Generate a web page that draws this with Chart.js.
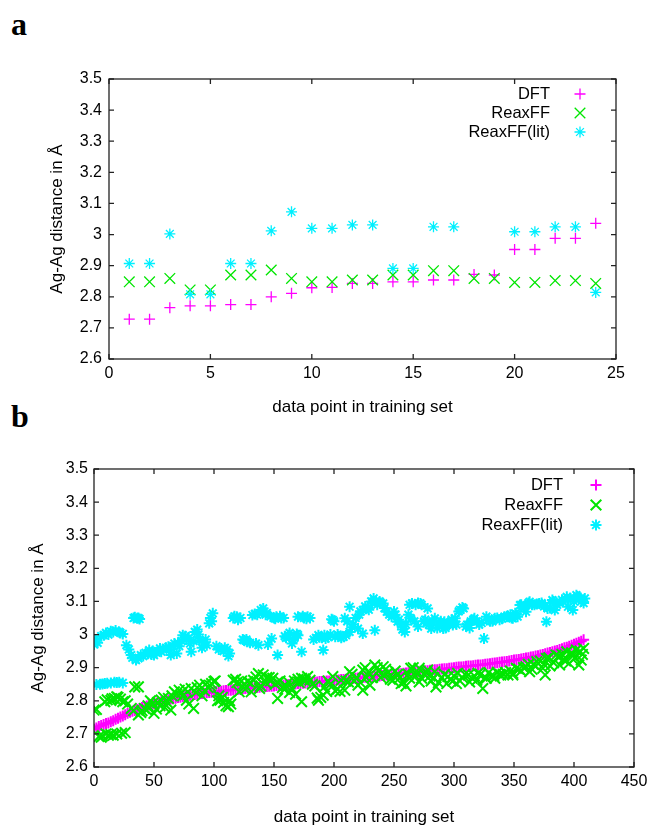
<!DOCTYPE html>
<html><head><meta charset="utf-8">
<script src="https://cdn.jsdelivr.net/npm/chart.js@4/dist/chart.umd.min.js"></script>
<style>
html,body{margin:0;padding:0;background:#fff;width:653px;height:828px;overflow:hidden;}
.lbl{position:absolute;font-family:"Liberation Serif","DejaVu Serif",serif;font-weight:bold;font-size:32px;line-height:32px;color:#000;}
canvas{position:absolute;left:0;}
</style></head><body>
<div class="lbl" style="left:11px;top:8px;">a</div>
<div class="lbl" style="left:11px;top:400px;">b</div>
<canvas id="ca" width="653" height="360" style="top:60px;width:653px;height:360px"></canvas>
<canvas id="cb" width="653" height="388" style="top:440px;width:653px;height:388px"></canvas>
<script>
// ---------- panel a data ----------
const seriesNames = ['DFT', 'ReaxFF', 'ReaxFF(lit)'];
const aIndex = [1,2,3,4,5,6,7,8,9,10,11,12,13,14,15,16,17,18,19,20,21,22,23,24];
const aDFT   = [2.728,2.728,2.765,2.771,2.771,2.775,2.775,2.800,2.811,2.829,2.830,2.843,2.843,2.848,2.848,2.854,2.854,2.872,2.870,2.952,2.952,2.988,2.988,3.036];
const aReax  = [2.848,2.848,2.859,2.822,2.822,2.870,2.870,2.886,2.859,2.848,2.848,2.854,2.854,2.870,2.870,2.884,2.884,2.859,2.859,2.846,2.846,2.852,2.852,2.843];
const aLit   = [2.907,2.907,3.002,2.808,2.808,2.907,2.907,3.012,3.073,3.020,3.020,3.031,3.031,2.891,2.891,3.025,3.025,null,null,3.009,3.009,3.025,3.025,2.814];

// ---------- panel b data: [index, distance] ----------
const bDFT = [[0,2.714],[2,2.718],[4,2.722],[6,2.725],[8,2.728],[10,2.731],[12,2.733],[14,2.737],[16,2.740],[18,2.744],[20,2.747],[22,2.751],[24,2.754],[26,2.758],[28,2.762],[30,2.765],[32,2.768],[34,2.771],[36,2.774],[38,2.777],[40,2.780],[42,2.782],[44,2.784],[46,2.787],[48,2.789],[50,2.791],[52,2.793],[54,2.795],[56,2.797],[58,2.799],[60,2.801],[62,2.803],[64,2.805],[66,2.806],[68,2.808],[70,2.810],[72,2.811],[74,2.813],[76,2.814],[78,2.816],[80,2.817],[82,2.818],[84,2.819],[86,2.820],[88,2.821],[90,2.822],[92,2.823],[94,2.824],[96,2.825],[98,2.826],[100,2.827],[102,2.828],[104,2.829],[106,2.829],[108,2.830],[110,2.831],[112,2.832],[114,2.832],[116,2.833],[118,2.834],[120,2.835],[122,2.835],[124,2.836],[126,2.837],[128,2.838],[130,2.838],[132,2.839],[134,2.840],[136,2.840],[138,2.841],[140,2.842],[142,2.842],[144,2.843],[146,2.844],[148,2.844],[150,2.845],[152,2.846],[154,2.846],[156,2.847],[158,2.848],[160,2.849],[162,2.849],[164,2.850],[166,2.851],[168,2.851],[170,2.852],[172,2.853],[174,2.853],[176,2.854],[178,2.855],[180,2.855],[182,2.856],[184,2.856],[186,2.857],[188,2.858],[190,2.858],[192,2.859],[194,2.860],[196,2.860],[198,2.861],[200,2.862],[202,2.862],[204,2.863],[206,2.864],[208,2.864],[210,2.865],[212,2.866],[214,2.866],[216,2.867],[218,2.868],[220,2.869],[222,2.869],[224,2.870],[226,2.871],[228,2.872],[230,2.872],[232,2.873],[234,2.874],[236,2.875],[238,2.875],[240,2.876],[242,2.877],[244,2.878],[246,2.878],[248,2.879],[250,2.880],[252,2.881],[254,2.881],[256,2.882],[258,2.883],[260,2.884],[262,2.885],[264,2.886],[266,2.886],[268,2.887],[270,2.888],[272,2.889],[274,2.890],[276,2.891],[278,2.891],[280,2.892],[282,2.893],[284,2.894],[286,2.894],[288,2.895],[290,2.896],[292,2.897],[294,2.897],[296,2.898],[298,2.899],[300,2.900],[302,2.901],[304,2.902],[306,2.902],[308,2.903],[310,2.904],[312,2.905],[314,2.905],[316,2.906],[318,2.907],[320,2.908],[322,2.908],[324,2.909],[326,2.910],[328,2.911],[330,2.912],[332,2.913],[334,2.914],[336,2.915],[338,2.916],[340,2.917],[342,2.918],[344,2.919],[346,2.920],[348,2.922],[350,2.923],[352,2.924],[354,2.925],[356,2.926],[358,2.928],[360,2.929],[362,2.930],[364,2.932],[366,2.933],[368,2.935],[370,2.936],[372,2.938],[374,2.940],[376,2.942],[378,2.944],[380,2.946],[382,2.948],[384,2.950],[386,2.952],[388,2.955],[390,2.957],[392,2.960],[394,2.962],[396,2.965],[398,2.968],[400,2.971],[402,2.974],[404,2.977],[406,2.980],[408,2.984]];

const bReax = [[0,2.772],[2,2.774],[4,2.692],[6,2.690],[7,2.694],[9,2.797],[10,2.700],[11,2.803],[12,2.696],[14,2.801],[14,2.698],[15,2.806],[16,2.696],[17,2.807],[19,2.812],[19,2.700],[20,2.810],[22,2.805],[23,2.702],[24,2.797],[26,2.704],[26,2.800],[28,2.790],[31,2.777],[33,2.770],[34,2.842],[37,2.842],[37,2.757],[39,2.765],[40,2.770],[42,2.777],[44,2.772],[45,2.785],[47,2.800],[49,2.792],[50,2.762],[52,2.775],[53,2.795],[55,2.785],[56,2.802],[58,2.810],[59,2.780],[61,2.795],[62,2.807],[64,2.772],[65,2.815],[67,2.827],[69,2.820],[71,2.832],[73,2.825],[74,2.815],[76,2.835],[77,2.802],[79,2.790],[81,2.837],[83,2.777],[85,2.825],[86,2.840],[88,2.847],[90,2.815],[92,2.830],[93,2.850],[95,2.840],[97,2.845],[98,2.852],[100,2.858],[101,2.860],[103,2.800],[104,2.815],[105,2.802],[107,2.810],[108,2.795],[110,2.785],[112,2.782],[113,2.800],[114,2.790],[116,2.862],[118,2.865],[119,2.855],[121,2.827],[123,2.860],[125,2.850],[126,2.835],[128,2.858],[130,2.855],[131,2.827],[133,2.862],[135,2.872],[137,2.882],[138,2.837],[139,2.845],[141,2.878],[143,2.855],[144,2.870],[146,2.870],[147,2.860],[149,2.868],[151,2.850],[153,2.857],[153,2.807],[155,2.860],[157,2.840],[159,2.835],[160,2.845],[162,2.857],[163,2.825],[165,2.837],[167,2.860],[168,2.820],[170,2.865],[171,2.855],[173,2.868],[173,2.797],[175,2.866],[176,2.860],[178,2.873],[180,2.862],[182,2.850],[184,2.845],[186,2.808],[187,2.802],[189,2.810],[191,2.817],[192,2.842],[194,2.828],[195,2.860],[197,2.850],[199,2.873],[201,2.830],[203,2.835],[205,2.828],[206,2.862],[209,2.832],[210,2.860],[212,2.857],[213,2.888],[215,2.880],[217,2.860],[219,2.870],[220,2.847],[222,2.855],[224,2.893],[224,2.832],[226,2.900],[227,2.870],[229,2.885],[230,2.847],[232,2.870],[234,2.908],[236,2.900],[237,2.890],[239,2.870],[241,2.903],[241,2.878],[243,2.895],[245,2.885],[247,2.865],[249,2.862],[251,2.890],[253,2.880],[255,2.870],[256,2.852],[258,2.855],[260,2.845],[262,2.880],[263,2.868],[264,2.898],[266,2.900],[268,2.875],[270,2.885],[271,2.898],[271,2.857],[273,2.868],[275,2.880],[277,2.885],[278,2.893],[280,2.875],[281,2.860],[283,2.870],[284,2.888],[285,2.842],[287,2.855],[290,2.870],[292,2.880],[294,2.852],[295,2.873],[297,2.865],[299,2.860],[300,2.875],[302,2.852],[303,2.883],[305,2.860],[307,2.870],[309,2.880],[312,2.878],[313,2.857],[315,2.868],[317,2.875],[319,2.862],[320,2.883],[322,2.880],[324,2.837],[326,2.870],[327,2.868],[329,2.885],[331,2.875],[333,2.875],[334,2.868],[336,2.885],[338,2.880],[339,2.878],[341,2.880],[343,2.885],[345,2.878],[347,2.890],[349,2.883],[349,2.878],[352,2.898],[354,2.895],[356,2.890],[358,2.900],[360,2.903],[362,2.910],[363,2.888],[365,2.895],[366,2.910],[368,2.905],[369,2.918],[372,2.920],[374,2.898],[375,2.910],[376,2.878],[377,2.928],[379,2.930],[380,2.905],[383,2.915],[385,2.938],[387,2.935],[388,2.908],[390,2.940],[391,2.925],[393,2.920],[394,2.948],[396,2.913],[398,2.945],[399,2.935],[401,2.930],[402,2.953],[404,2.908],[405,2.950],[406,2.923],[407,2.940],[408,2.958]];

const bLit = [[0,2.970],[1,2.985],[2,2.849],[3,2.975],[5,2.850],[6,2.995],[7,2.851],[8,2.998],[9,2.852],[10,3.005],[11,2.853],[12,3.000],[14,2.854],[14,3.010],[16,3.008],[17,2.856],[18,3.012],[19,2.855],[21,3.008],[21,2.856],[22,3.005],[24,2.854],[24,3.002],[27,2.968],[29,2.955],[31,2.938],[32,2.930],[33,3.050],[34,3.052],[35,2.923],[36,3.049],[37,3.050],[37,2.928],[38,3.047],[39,2.938],[41,2.935],[43,2.945],[45,2.942],[46,2.953],[48,2.940],[49,2.950],[50,2.938],[52,2.945],[53,2.950],[55,2.958],[56,2.948],[58,2.955],[60,2.960],[62,2.963],[63,2.955],[64,2.938],[66,2.965],[67,2.973],[69,2.943],[70,2.975],[71,2.965],[73,2.980],[74,2.998],[76,2.995],[77,2.985],[79,2.990],[80,2.973],[81,2.948],[83,2.980],[84,3.008],[86,3.015],[87,3.000],[88,2.983],[90,2.960],[91,2.975],[93,2.985],[94,2.968],[96,3.034],[97,3.050],[98,3.040],[99,3.064],[102,2.965],[104,2.955],[106,2.958],[108,2.950],[109,2.960],[111,2.955],[112,2.935],[113,2.943],[116,3.050],[117,3.055],[119,3.054],[120,3.045],[122,3.050],[124,2.985],[125,2.983],[127,2.985],[128,2.978],[130,2.975],[132,3.059],[134,3.062],[135,2.973],[136,3.060],[137,2.968],[139,3.074],[140,3.070],[141,3.079],[143,3.060],[144,3.065],[145,2.970],[147,3.055],[148,2.988],[150,3.050],[151,3.048],[152,3.054],[153,2.938],[155,3.055],[156,3.050],[158,3.050],[159,2.995],[160,2.990],[162,2.998],[163,3.005],[165,2.973],[166,2.985],[167,2.990],[169,3.002],[170,3.054],[170,2.998],[173,2.948],[174,3.055],[175,3.050],[177,3.048],[178,3.054],[180,3.050],[183,2.985],[185,2.990],[187,2.998],[188,2.992],[190,2.990],[191,2.953],[192,2.998],[193,2.988],[195,2.992],[197,3.000],[198,3.046],[199,3.044],[200,3.040],[201,2.993],[203,3.000],[204,2.995],[206,2.990],[208,2.993],[209,3.049],[210,2.998],[211,3.040],[213,3.084],[213,3.008],[215,3.022],[216,3.030],[218,3.050],[220,3.018],[221,3.060],[222,3.070],[224,3.074],[224,3.003],[226,3.085],[228,3.080],[229,3.075],[231,3.100],[232,3.095],[233,3.109],[234,3.013],[235,3.100],[236,3.090],[238,3.100],[239,3.095],[241,3.094],[242,3.080],[244,3.069],[246,3.060],[248,3.054],[250,3.070],[251,3.060],[253,3.039],[254,3.045],[256,3.030],[257,3.015],[259,3.008],[260,3.030],[262,3.060],[263,3.090],[264,3.049],[265,3.094],[267,3.040],[268,3.090],[270,3.024],[270,3.095],[272,3.094],[273,3.090],[275,3.040],[276,3.045],[277,3.034],[278,3.079],[279,3.030],[281,3.018],[282,3.040],[284,3.049],[286,3.020],[287,3.030],[289,3.040],[291,3.018],[292,3.039],[293,3.020],[295,3.035],[296,3.030],[298,3.045],[299,3.029],[301,3.049],[302,3.030],[304,3.070],[305,3.075],[307,3.082],[308,3.079],[310,3.024],[311,3.030],[313,3.020],[314,3.040],[316,3.045],[317,3.049],[319,3.040],[321,3.030],[323,3.035],[325,2.988],[327,3.054],[329,3.045],[330,3.040],[332,3.040],[334,3.049],[336,3.050],[338,3.045],[340,3.048],[342,3.054],[344,3.054],[345,3.056],[347,3.060],[348,3.050],[349,3.049],[351,3.064],[352,3.060],[353,3.054],[355,3.089],[356,3.090],[358,3.080],[359,3.085],[360,3.069],[362,3.095],[363,3.099],[365,3.090],[367,3.090],[369,3.092],[371,3.094],[373,3.095],[375,3.085],[376,3.088],[377,3.039],[378,3.079],[380,3.080],[382,3.104],[383,3.100],[384,3.074],[386,3.090],[388,3.095],[390,3.105],[391,3.100],[393,3.105],[394,3.114],[395,3.084],[397,3.110],[399,3.074],[400,3.100],[402,3.119],[403,3.115],[405,3.109],[406,3.100],[408,3.095],[409,3.109]];

// ---------- styling ----------
const colors = ['#ff00ff', '#00e600', '#00f0ff'];
const styles = ['cross', 'crossRot', 'star'];
const radii = [5.5, 7.5, 5.5];
const FONT = '"Liberation Sans", Arial, Helvetica, sans-serif';

function ptsA(xs, ys){ const r=[]; xs.forEach((x,i)=>{ if(ys[i]!==null) r.push({x:x,y:ys[i]}); }); return r; }
function ptsB(pairs){ return pairs.map(p=>({x:p[0], y:p[1]})); }

const framePlugin = {
  id:'frame',
  afterDraw(chart){
    const {ctx, chartArea:a, scales:{x,y}} = chart;
    ctx.save();
    ctx.strokeStyle='#222'; ctx.lineWidth=1.3;
    const L=5;
    ctx.beginPath();
    x.ticks.forEach(t=>{const px=x.getPixelForValue(t.value); ctx.moveTo(px,a.bottom); ctx.lineTo(px,a.bottom-L); ctx.moveTo(px,a.top); ctx.lineTo(px,a.top+L);});
    y.ticks.forEach(t=>{const py=y.getPixelForValue(t.value); ctx.moveTo(a.left,py); ctx.lineTo(a.left+L,py); ctx.moveTo(a.right,py); ctx.lineTo(a.right-L,py);});
    ctx.stroke();
    ctx.strokeRect(a.left, a.top, a.right-a.left, a.bottom-a.top);
    ctx.restore();
  }
};

function legendPlugin(textRight, markerX, rows, bw){
  return { id:'lg', afterDraw(chart){
    const ctx = chart.ctx; ctx.save();
    ctx.font = '16.5px ' + FONT; ctx.fillStyle = '#000'; ctx.textAlign='right'; ctx.textBaseline='middle';
    seriesNames.forEach((n,i)=>{
      ctx.fillText(n, textRight, rows[i]);
      ctx.strokeStyle = colors[i]; ctx.lineWidth = bw;
      Chart.helpers.drawPoint(ctx, {pointStyle: styles[i], radius: radii[i], borderWidth: bw, rotation: 0}, markerX, rows[i]);
    });
    ctx.restore();
  }};
}

function makeChart(id, sets, xmin, xmax, xstep, geom){
  const datasets = sets.map((d,i)=>({
    label: seriesNames[i], data: d, pointStyle: styles[i],
    pointRadius: radii[i], borderColor: colors[i], backgroundColor: 'rgba(0,0,0,0)',
    pointBorderWidth: geom.bw, borderWidth: geom.bw, showLine: false, order: 2 - i
  }));
  return new Chart(document.getElementById(id), {
    type: 'scatter',
    data: { datasets },
    options: {
      responsive: false, animation: false, devicePixelRatio: 1, events: [],
      layout: { padding: { top: geom.top, right: geom.right, left: 0, bottom: 0 } },
      plugins: { legend: { display: false }, tooltip: { enabled: false } },
      scales: {
        x: {
          type: 'linear', min: xmin, max: xmax,
          grid: { display: false, drawTicks: false, tickLength: 0 }, border: { display: false },
          ticks: { stepSize: xstep, color: '#000', font: { family: FONT, size: 16 }, padding: geom.xpad, maxRotation: 0, autoSkip: false },
          title: { display: true, text: 'data point in training set', color: '#000', font: { family: FONT, size: 17 }, padding: { top: 0, bottom: geom.xtb } },
          afterFit(s){ s.height = geom.xh; }
        },
        y: {
          type: 'linear', min: 2.6, max: 3.5,
          grid: { display: false, drawTicks: false, tickLength: 0 }, border: { display: false },
          ticks: { stepSize: 0.1, color: '#000', font: { family: FONT, size: 16 }, padding: geom.ypad, autoSkip: false,
            callback: v => String(Math.round(v*10)/10) },
          title: { display: true, text: 'Ag-Ag distance in Å', color: '#000', font: { family: FONT, size: 17 }, padding: { top: geom.ytp, bottom: 0 } },
          afterFit(s){ s.width = geom.yw; }
        }
      }
    },
    plugins: [framePlugin, legendPlugin(geom.lgx, geom.lgm, geom.lgr, geom.bw)]
  });
}

makeChart('ca', [ptsA(aIndex,aDFT), ptsA(aIndex,aReax), ptsA(aIndex,aLit)], 0, 25, 5,
  { top: 19, right: 37, xh: 61, yw: 109, xpad: 5, ypad: 7, xtb: 2, ytp: 47, lgx: 550, lgm: 580, lgr: [34, 53, 72], bw: 1.3 });
makeChart('cb', [ptsB(bDFT), ptsB(bReax), ptsB(bLit)], 0, 450, 50,
  { top: 29, right: 19, xh: 61, yw: 94, xpad: 5, ypad: 6, xtb: 0, ytp: 28, lgx: 563, lgm: 596, lgr: [45, 65, 85], bw: 2 });
</script>
</body></html>
